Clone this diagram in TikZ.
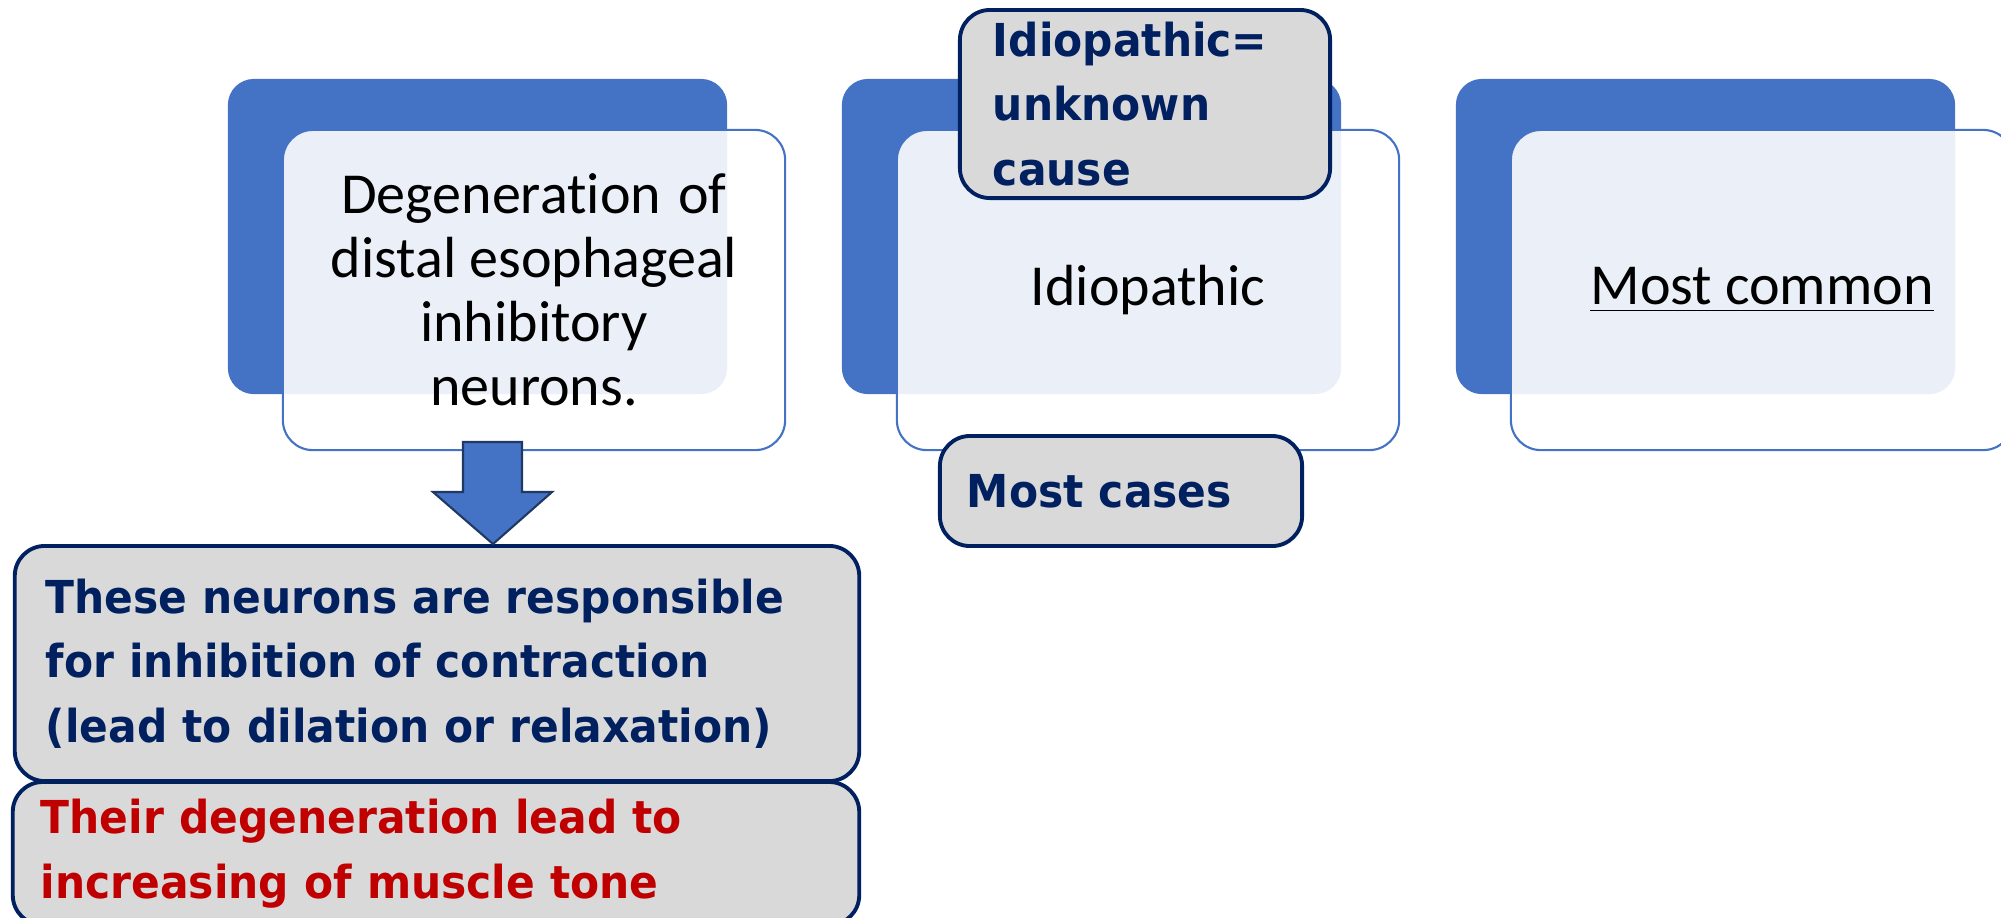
\documentclass[tikz,border=0pt]{standalone}
\usepackage{fontspec}
\setmainfont[Ligatures=NoCommon]{Carlito}
\newfontfamily\heavysans[FakeStretch=0.935, WordSpace=0.75]{DejaVu Sans}
\usetikzlibrary{calc}
\definecolor{accblue}{HTML}{4472C4}
\definecolor{navy}{HTML}{002060}
\definecolor{darkred}{HTML}{C00000}
\definecolor{boxgray}{HTML}{D9D9D9}
\definecolor{arrowline}{HTML}{1F3864}
\begin{document}
\begin{tikzpicture}[x=0.01cm,y=-0.01cm,
  back/.style={fill=accblue, draw=none, rounded corners=0.26cm,
    minimum width=4.99cm, minimum height=3.15cm, inner sep=0pt},
  front/.style={draw=accblue, line width=0.6pt, fill=white, fill opacity=0.89,
    text opacity=1, rounded corners=0.3cm, minimum width=5.02cm,
    minimum height=3.2cm, inner sep=0pt, align=center,
    font=\fontsize{16.5}{18.2}\selectfont},
  graybox/.style={fill=boxgray, draw=navy, line width=1.1pt, rounded corners=0.3cm,
    inner sep=0pt, align=left, font=\heavysans\bfseries\fontsize{12.9}{18.3}\selectfont},
  blockarrow/.style={fill=accblue, draw=arrowline, line width=0.6pt}
]
\useasboundingbox (0,0) rectangle (2001,917);
\begin{scope}
\clip (0,0) rectangle (2001,917);
% group 1
\node[back] (b1) at (477.5,236.5) {};
\node[front] (f1) at (534,290) {Degeneration\hspace{0.3em}of\\distal esophageal\\inhibitory\\neurons.};
% group 2
\node[back] (b2) at (1091.5,236.5) {};
\node[front] (f2) at (1148,290) {Idiopathic};
% group 3
\node[back] (b3) at (1705.5,236.5) {};
\node[front] (f3) at (1762,290) {\underline{Most common}};

% gray boxes group 2
\node[graybox, text=navy, minimum width=3.7cm, minimum height=1.88cm,
  text width=3.04cm] (idio) at (1145,104)
  {Idiopathic=\\unknown\\cause};
\node[graybox, text=navy, minimum width=3.62cm, minimum height=1.10cm,
  text width=3.08cm] (most) at (1121,491) {Most cases};

% lower boxes
\node[graybox, text=navy, minimum width=8.44cm, minimum height=2.35cm,
  text width=7.82cm] (these) at (437,663.5)
  {These neurons are responsible\\for inhibition of contraction\\(lead to dilation or relaxation)};
\node[graybox, text=darkred, minimum width=8.46cm, minimum height=1.43cm,
  text width=7.9cm] (their) at (436,853.5)
  {Their degeneration lead to\\increasing of muscle tone};
\end{scope}

% block arrow from f1 to these
\coordinate (tip) at (these.north -| 493,0);
\draw[blockarrow] (463,442) -- (522,442) -- (522,492) -- (552,492)
  -- (tip) -- (433,492) -- (463,492) -- cycle;
\end{tikzpicture}
\end{document}
